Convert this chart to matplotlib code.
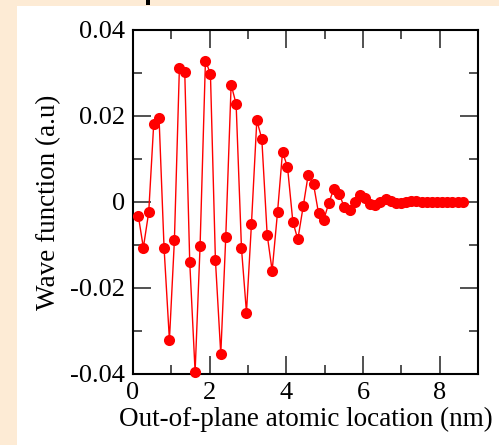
import matplotlib
matplotlib.use("Agg")
import matplotlib.pyplot as plt
from matplotlib.patches import Rectangle
from matplotlib.ticker import MultipleLocator, FixedLocator, FixedFormatter

# Atomic positions along the out-of-plane direction (nm)
location_nm = [
    0.14, 0.27, 0.41, 0.54, 0.68, 0.81, 0.95, 1.08, 1.21, 1.35,
    1.48, 1.62, 1.75, 1.89, 2.02, 2.15, 2.29, 2.42, 2.56, 2.69,
    2.83, 2.96, 3.09, 3.23, 3.36, 3.50, 3.63, 3.77, 3.90, 4.03,
    4.17, 4.30, 4.44, 4.57, 4.71, 4.84, 4.97, 5.11, 5.24, 5.38,
    5.51, 5.65, 5.78, 5.91, 6.05, 6.18, 6.32, 6.45, 6.59, 6.72,
    6.85, 6.99, 7.12, 7.26, 7.39, 7.53, 7.66, 7.79, 7.93, 8.06,
    8.20, 8.33, 8.47, 8.60,
]

# Wave function amplitude at each atom (a.u.)
wave_function = [
    -0.0033, -0.0106, -0.0024, 0.0181, 0.0195, -0.0106, -0.0321, -0.0089, 0.0311, 0.0302,
    -0.0139, -0.0395, -0.0102, 0.0329, 0.0298, -0.0135, -0.0354, -0.0081, 0.0273, 0.0228,
    -0.0108, -0.0257, -0.0051, 0.0190, 0.0147, -0.0076, -0.0160, -0.0024, 0.0116, 0.0082,
    -0.0046, -0.0087, -0.0010, 0.0063, 0.0041, -0.0026, -0.0043, -0.0002, 0.0031, 0.0019,
    -0.0012, -0.0018, 0.0001, 0.0016, 0.0009, -0.0005, -0.0007, 0.0001, 0.0007, 0.0003,
    -0.0003, -0.0003, 0.0001, 0.0003, 0.0002, 0.0000, -0.0001, -0.0001, 0.0000, 0.0001,
    0.0001, 0.0000, 0.0000, 0.0000,
]

x_ticks = [0, 2, 4, 6, 8]
x_tick_labels = ["0", "2", "4", "6", "8"]
y_ticks = [-0.04, -0.02, 0.0, 0.02, 0.04]
y_tick_labels = ["-0.04", "-0.02", "0", "0.02", "0.04"]

W, H, DPI = 499, 445, 100
plt.rcParams["font.family"] = ["Liberation Serif", "DejaVu Serif"]

fig = plt.figure(figsize=(W / DPI, H / DPI), dpi=DPI, facecolor="white")

# beige page margin around the white panel
beige = "#fdebd5"
fig.patches.append(Rectangle((0, 0), 17 / W, 1, transform=fig.transFigure,
                             facecolor=beige, edgecolor="none", zorder=-10))
fig.patches.append(Rectangle((0, 1 - 6 / H), 1, 6 / H, transform=fig.transFigure,
                             facecolor=beige, edgecolor="none", zorder=-10))
# stub of the page heading above the panel
fig.patches.append(Rectangle((146 / W, 1 - 5 / H), 4 / W, 5 / H, transform=fig.transFigure,
                             facecolor="black", edgecolor="none", zorder=-5))

left, right, top, bottom = 133, 478, 30, 374
ax = fig.add_axes([left / W, 1 - bottom / H, (right - left) / W, (bottom - top) / H])

ax.plot(location_nm, wave_function, color="#ff0000", linewidth=1.0,
        marker="o", markersize=8, markeredgewidth=0, clip_on=False, zorder=3)

ax.set_xlim(0, 9)
ax.set_ylim(-0.04, 0.04)

ax.xaxis.set_major_locator(FixedLocator(x_ticks))
ax.xaxis.set_major_formatter(FixedFormatter(x_tick_labels))
ax.xaxis.set_minor_locator(MultipleLocator(1))
ax.yaxis.set_major_locator(FixedLocator(y_ticks))
ax.yaxis.set_major_formatter(FixedFormatter(y_tick_labels))
ax.yaxis.set_minor_locator(MultipleLocator(0.01))

ax.tick_params(which="both", direction="in", top=True, right=True,
               color="#333333", labelsize=19)
ax.tick_params(which="major", length=13, width=1.2, pad=6)
ax.tick_params(which="minor", length=6.5, width=1.2)

for sp in ax.spines.values():
    sp.set_linewidth(1.5)
    sp.set_color("black")

ax.set_xlabel("Out-of-plane atomic location (nm)", fontsize=19.5, labelpad=2)
ax.set_ylabel("Wave function (a.u)", fontsize=19.5, labelpad=6)

fig.savefig("out.png", dpi=DPI, facecolor=fig.get_facecolor())
